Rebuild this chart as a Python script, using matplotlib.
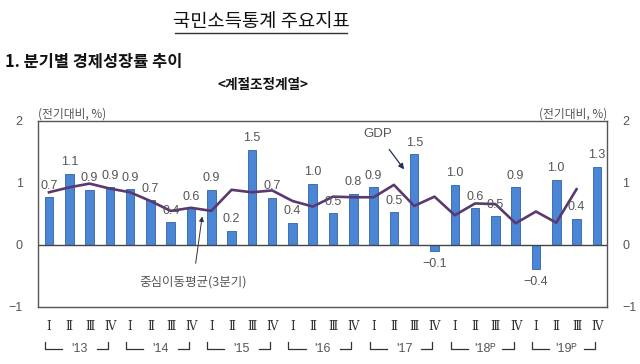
import matplotlib
matplotlib.use("Agg")
import matplotlib.pyplot as plt
from matplotlib.lines import Line2D

# 분기별 경제성장률 (전기대비, %)
years = ["'13", "'14", "'15", "'16", "'17", "'18ᴾ", "'19ᴾ"]
quarters = ["Ⅰ", "Ⅱ", "Ⅲ", "Ⅳ"]
gdp = [0.77, 1.15, 0.89, 0.93, 0.90, 0.72, 0.37, 0.59,
       0.89, 0.23, 1.54, 0.76, 0.36, 0.99, 0.51, 0.83,
       0.93, 0.53, 1.46, -0.10, 0.97, 0.59, 0.46, 0.93,
       -0.38, 1.05, 0.42, 1.26]
gdp_labels = ["0.7", "1.1", "0.9", "0.9", "0.9", "0.7", "0.4", "0.6",
              "0.9", "0.2", "1.5", "0.7", "0.4", "1.0", "0.5", "0.8",
              "0.9", "0.5", "1.5", "−0.1", "1.0", "0.6", "0.5", "0.9",
              "−0.4", "1.0", "0.4", "1.3"]
# 중심이동평균(3분기), last quarter has none
moving_avg = [0.85, 0.93, 0.99, 0.91, 0.85, 0.71, 0.55, 0.60,
              0.55, 0.89, 0.85, 0.88, 0.71, 0.62, 0.78, 0.77,
              0.77, 0.97, 0.63, 0.78, 0.48, 0.67, 0.66, 0.35,
              0.54, 0.36, 0.90]

KR = ["Noto Sans CJK KR", "DejaVu Sans"]
NUM = ["Liberation Sans", "Noto Sans CJK KR"]
GRAY = "#555555"

fig = plt.figure(figsize=(6.4, 3.64), dpi=100)
ax = fig.add_axes([0.0594, 0.1566, 0.889, 0.511])

x = list(range(len(gdp)))
ax.bar(x, gdp, width=0.42, color="#4a85d6", edgecolor="#2f62a8", linewidth=0.6, zorder=2)
ax.plot(x[:len(moving_avg)], moving_avg, color="#5a3a6e", linewidth=1.9, zorder=3)
ax.axhline(0, color="#444444", linewidth=1.0, zorder=2)

for xi, v, lab in zip(x, gdp, gdp_labels):
    off = 4 if v >= 0 else -5
    ax.annotate(lab, (xi, v), xytext=(0, off), textcoords="offset points",
                ha="center", va="bottom" if v >= 0 else "top",
                fontsize=9, color=GRAY, family=NUM, zorder=4)

ax.set_xlim(-0.54, 27.5)
ax.set_ylim(-1, 2)
ax.set_yticks([-1, 0, 1, 2])
ax.set_yticklabels(["−1", "0", "1", "2"])
ax.set_xticks([])
ax.tick_params(axis="y", length=0, labelsize=9, labelcolor=GRAY, pad=11,
               labelright=True)
for lab in ax.get_yticklabels():
    lab.set_family(NUM)
for s in ax.spines.values():
    s.set_color("#555555")
    s.set_linewidth(1.0)

# unit labels
ax.text(0.0, 1.005, "(전기대비, %)", transform=ax.transAxes, ha="left", va="bottom",
        fontsize=8.5, color=GRAY, family=KR)
ax.text(1.0, 1.005, "(전기대비, %)", transform=ax.transAxes, ha="right", va="bottom",
        fontsize=8.5, color=GRAY, family=KR)

# annotations
ax.annotate("GDP", xy=(17.5, 1.22), xytext=(16.2, 1.79), ha="center", va="center",
            fontsize=9.5, color=GRAY, family=NUM,
            arrowprops=dict(arrowstyle="-|>", color="#1f2f4f", lw=0.9,
                            shrinkA=6, shrinkB=0, mutation_scale=8))
ax.annotate("중심이동평균(3분기)", xy=(7.55, 0.46), xytext=(7.1, -0.6),
            ha="center", va="center", fontsize=9, color=GRAY, family=KR,
            arrowprops=dict(arrowstyle="-|>", color="#333333", lw=0.7,
                            shrinkA=7, shrinkB=0, mutation_scale=7))

# quarter and year labels under the axis
tr = ax.get_xaxis_transform()
for i, yr in enumerate(years):
    for j, q in enumerate(quarters):
        ax.text(i * 4 + j, -0.107, q, transform=tr, ha="center", va="center",
                fontsize=8.5, color="#333333", family=["DejaVu Serif"])
    c = i * 4 + 1.5
    x0, x1 = i * 4 - 0.2, i * 4 + 2.9
    ax.text(c, -0.226, yr, transform=tr, ha="center", va="center",
            fontsize=9, color=GRAY, family=NUM)
    for pts in ([(x0, -0.19), (x0, -0.226), (c - 0.85, -0.226)],
                [(c + 0.85, -0.226), (x1, -0.226), (x1, -0.19)]):
        ax.add_line(Line2D([p[0] for p in pts], [p[1] for p in pts], transform=tr,
                           color="#333333", linewidth=0.9, clip_on=False))

# header texts
fig.text(261 / 640, 1 - 22 / 364, "국민소득통계 주요지표", ha="center", va="center",
         fontsize=13.5, color="#111111", family=KR)
fig.add_artist(Line2D([175 / 640, 347 / 640], [1 - 33 / 364, 1 - 33 / 364],
                      color="#333333", linewidth=1.0))
fig.text(5 / 640, 1 - 62 / 364, "1. 분기별 경제성장률 추이", ha="left", va="center",
         fontsize=11.8, fontweight="bold", color="#111111", family=KR)
fig.text(263 / 640, 1 - 85 / 364, "<계절조정계열>", ha="center", va="center",
         fontsize=9.8, fontweight="bold", color="#111111", family=KR)

fig.savefig("out.png", dpi=100)
